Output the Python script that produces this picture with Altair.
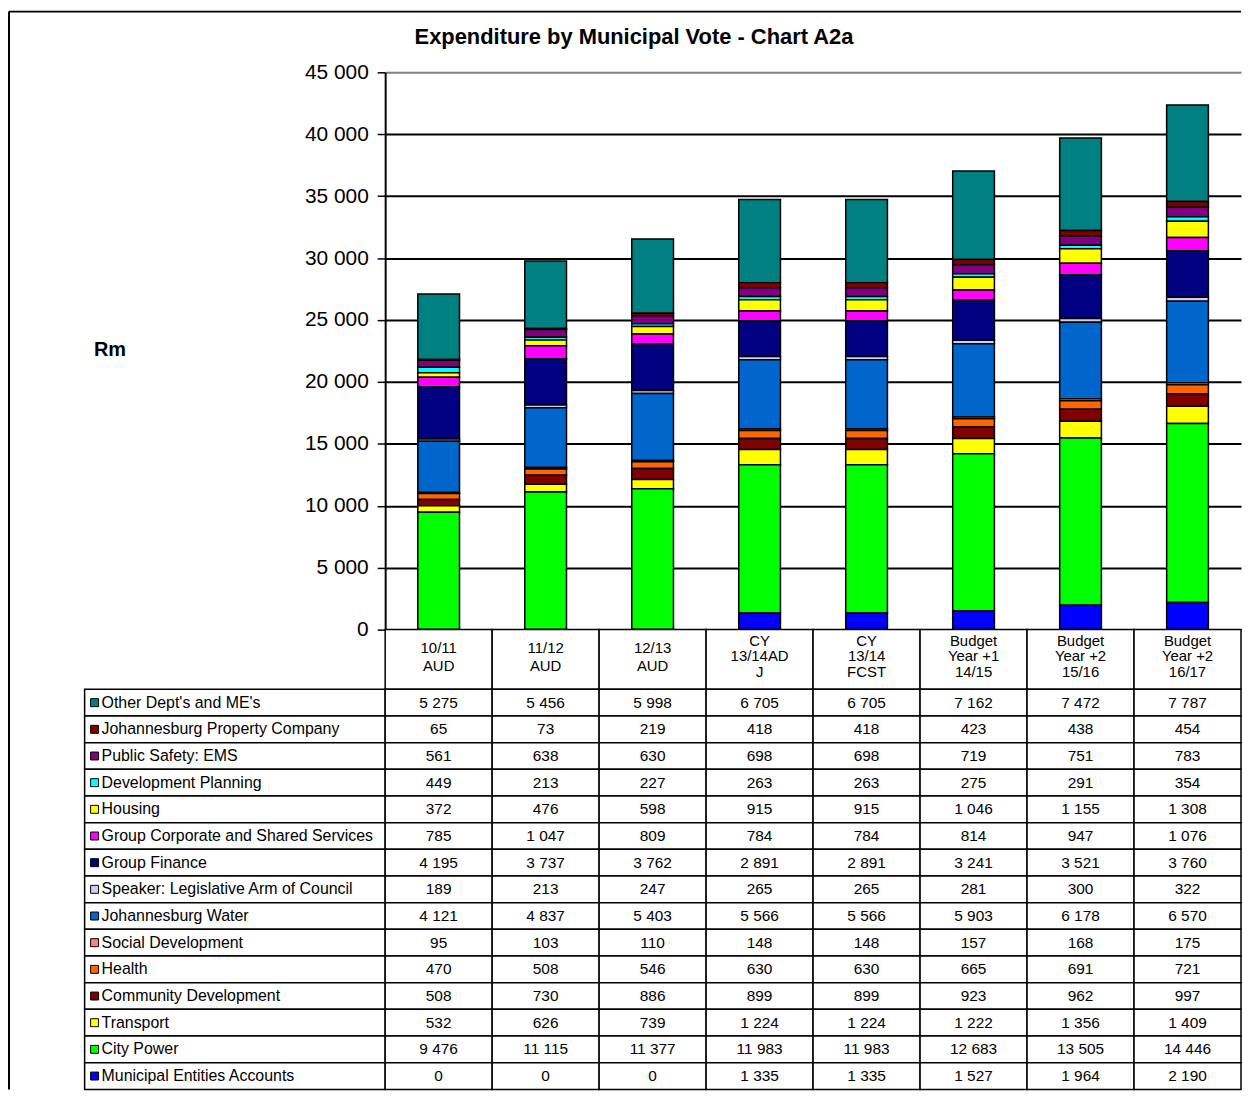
import altair as alt
import pandas as pd

TITLE = "Expenditure by Municipal Vote - Chart A2a"

categories = ["10/11\nAUD", "11/12\nAUD", "12/13\nAUD", "CY\n13/14AD\nJ", "CY\n13/14\nFCST",
              "Budget\nYear +1\n14/15", "Budget\nYear +2\n15/16", "Budget\nYear +2\n16/17"]

# table order (top row first) == stack order from top of bar downwards
series = [
    "Other Dept's and ME's",
    "Johannesburg Property Company",
    "Public Safety: EMS",
    "Development Planning",
    "Housing",
    "Group Corporate and Shared Services",
    "Group Finance",
    "Speaker: Legislative Arm of Council",
    "Johannesburg Water",
    "Social Development",
    "Health",
    "Community Development",
    "Transport",
    "City Power",
    "Municipal Entities Accounts",
]

colors = ["#008080", "#800000", "#800080", "#00FFFF", "#FFFF00", "#FF00FF", "#000080",
          "#CCCCFF", "#0066CC", "#FF8080", "#FF6600", "#800000", "#FFFF00", "#00FF00", "#0000FF"]

other_dept = [5275, 5456, 5998, 6705, 6705, 7162, 7472, 7787]
jhb_property = [65, 73, 219, 418, 418, 423, 438, 454]
public_safety = [561, 638, 630, 698, 698, 719, 751, 783]
dev_planning = [449, 213, 227, 263, 263, 275, 291, 354]
housing = [372, 476, 598, 915, 915, 1046, 1155, 1308]
group_corporate = [785, 1047, 809, 784, 784, 814, 947, 1076]
group_finance = [4195, 3737, 3762, 2891, 2891, 3241, 3521, 3760]
speaker = [189, 213, 247, 265, 265, 281, 300, 322]
jhb_water = [4121, 4837, 5403, 5566, 5566, 5903, 6178, 6570]
social_dev = [95, 103, 110, 148, 148, 157, 168, 175]
health = [470, 508, 546, 630, 630, 665, 691, 721]
community_dev = [508, 730, 886, 899, 899, 923, 962, 997]
transport = [532, 626, 739, 1224, 1224, 1222, 1356, 1409]
city_power = [9476, 11115, 11377, 11983, 11983, 12683, 13505, 14446]
municipal_entities = [0, 0, 0, 1335, 1335, 1527, 1964, 2190]

values = [other_dept, jhb_property, public_safety, dev_planning, housing, group_corporate,
          group_finance, speaker, jhb_water, social_dev, health, community_dev, transport,
          city_power, municipal_entities]

y_ticks = [0, 5000, 10000, 15000, 20000, 25000, 30000, 35000, 40000, 45000]

rows = []
for i, (name, vals) in enumerate(zip(series, values)):
    for cat, v in zip(categories, vals):
        rows.append({"series": name, "cat": cat, "value": v, "stack": len(series) - 1 - i})
df = pd.DataFrame(rows)
one = pd.DataFrame({"t": [TITLE]})
hdr_df = pd.DataFrame({"cat": categories})
lab_df = pd.DataFrame({"series": series})

W = 860
FONT = "Liberation Sans"
color_scale = alt.Scale(domain=series, range=colors)

# ---------- bar chart ----------
bx = alt.X("cat:N", sort=categories, axis=None,
           scale=alt.Scale(paddingInner=0.61, paddingOuter=0.305))
bars = alt.Chart(df).mark_bar(stroke="black", strokeWidth=1.5).encode(
    x=bx,
    y=alt.Y("value:Q", stack="zero",
            scale=alt.Scale(domain=[0, 45000], nice=False),
            axis=alt.Axis(values=y_ticks,
                          labelExpr="replace(format(datum.value, ','), ',', ' ')",
                          labelFontSize=21, labelColor="black", labelPadding=9,
                          tickSize=8, tickColor="black", tickWidth=1.5,
                          domainColor="black", domainWidth=2,
                          grid=True, gridWidth=2,
                          gridColor={"condition": {"test": "datum.value == 45000", "value": "#808080"},
                                     "value": "black"},
                          title="Rm", titleAngle=0, titleFontSize=20, titleFontWeight="bold",
                          titleColor="black", titleX=-277, titleY=279,
                          titleAlign="center", titleBaseline="middle")),
    color=alt.Color("series:N", scale=color_scale, legend=None),
    order=alt.Order("stack:Q", sort="ascending"),
)
title_mark = alt.Chart(one).mark_text(fontSize=22, fontWeight="bold", color="black",
                                      align="center", baseline="middle").encode(
    x=alt.value(250), y=alt.value(-35), text="t:N")
border_left = alt.Chart(one).mark_rule(color="black", strokeWidth=2).encode(
    x=alt.value(-378), y=alt.value(-61), y2=alt.value(1022))
border_top = alt.Chart(one).mark_rule(color="black", strokeWidth=2).encode(
    x=alt.value(-378), x2=alt.value(W), y=alt.value(-61))

top = alt.layer(bars, title_mark, border_left, border_top).properties(width=W, height=560)

# ---------- header row ----------
tx = alt.X("cat:N", sort=categories, axis=None,
           scale=alt.Scale(paddingInner=0, paddingOuter=0))
header_cells = alt.Chart(hdr_df).mark_rect(fill="white", stroke="black", strokeWidth=1.5).encode(
    x=tx, y=alt.value(0), y2=alt.value(60))
hdr_base = alt.Chart(hdr_df).transform_calculate(
    nlines="length(split(datum.cat, '\\n'))"
)
header_text2 = hdr_base.transform_filter("datum.nlines == 2").mark_text(
    lineBreak="\n", fontSize=15, lineHeight=18, baseline="middle", color="black", dy=-11
).encode(x=tx, y=alt.value(30), text="cat:N")
header_text3 = hdr_base.transform_filter("datum.nlines == 3").mark_text(
    lineBreak="\n", fontSize=15, lineHeight=16, baseline="middle", color="black", dy=-19
).encode(x=tx, y=alt.value(30), text="cat:N")
header = alt.layer(header_cells, header_text2, header_text3).properties(width=W, height=60)

# ---------- data table ----------
ty = alt.Y("series:N", sort=series, axis=None,
           scale=alt.Scale(paddingInner=0, paddingOuter=0))
cells = alt.Chart(df).mark_rect(fill="white", stroke="black", strokeWidth=1.5).encode(x=tx, y=ty)
nums = alt.Chart(df).transform_calculate(
    txt="replace(format(datum.value, ','), ',', ' ')"
).mark_text(fontSize=15.5, color="black", baseline="middle").encode(x=tx, y=ty, text="txt:N")
lab_cells = alt.Chart(lab_df).mark_rect(fill="white", stroke="black", strokeWidth=1.5).encode(
    x=alt.value(-302), x2=alt.value(0), y=ty)
squares = alt.Chart(lab_df).mark_square(size=64, filled=True, stroke="black", strokeWidth=1,
                                        opacity=1).encode(
    x=alt.value(-292), y=ty, color=alt.Color("series:N", scale=color_scale, legend=None))
labels = alt.Chart(lab_df).mark_text(align="left", baseline="middle", fontSize=16,
                                     color="black").encode(
    x=alt.value(-285), y=ty, text="series:N")
table = alt.layer(lab_cells, cells, nums, squares, labels).properties(width=W, height=402)

chart = alt.vconcat(top, header, table, spacing=0, bounds="flush").resolve_scale(
    x="independent", y="independent"
).properties(
    padding={"left": 0, "top": 0, "right": 0, "bottom": 0}
).configure(font=FONT).configure_view(stroke=None)

chart.save("out.html", embed_options={"renderer": "svg", "actions": False})
